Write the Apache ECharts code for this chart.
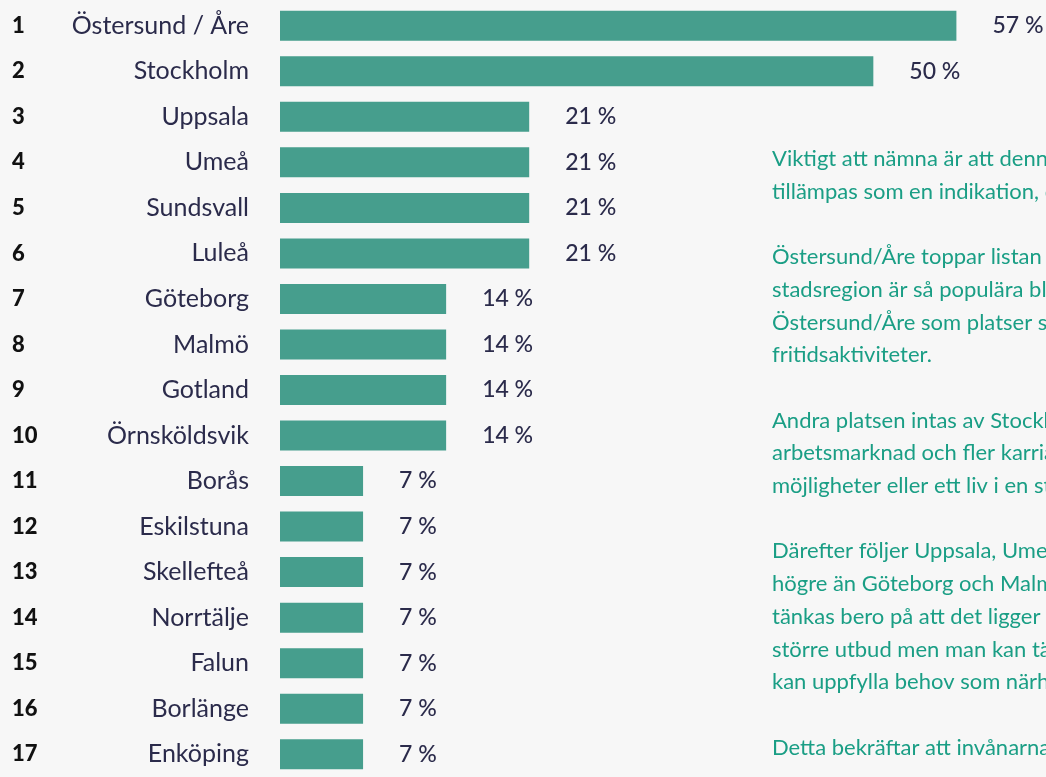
<!DOCTYPE html>
<html>
<head>
<meta charset="utf-8">
<script src="https://cdn.jsdelivr.net/npm/echarts@6/dist/echarts.min.js"></script>
<style>
    html, body { margin: 0; padding: 0; background: #f7f7f7; }
    #chart { width: 1046px; height: 777px; }
</style>
</head>
<body>
<div id="chart"></div>
<script>
var ranks = ['1', '2', '3', '4', '5', '6', '7', '8', '9', '10', '11', '12', '13', '14', '15', '16', '17'];
var places = ['Östersund / Åre', 'Stockholm', 'Uppsala', 'Umeå', 'Sundsvall', 'Luleå', 'Göteborg', 'Malmö',
    'Gotland', 'Örnsköldsvik', 'Borås', 'Eskilstuna', 'Skellefteå', 'Norrtälje', 'Falun', 'Borlänge', 'Enköping'];
var shares = [57, 50, 21, 21, 21, 21, 14, 14, 14, 14, 7, 7, 7, 7, 7, 7, 7];

// side text (runs past the right edge like the original), '' = blank line
var notes = [
    'Viktigt att nämna är att denna',
    'tillämpas som en indikation, då',
    '',
    'Östersund/Åre toppar listan',
    'stadsregion är så populära bland',
    'Östersund/Åre som platser som',
    'fritidsaktiviteter.',
    '',
    'Andra platsen intas av Stockholm',
    'arbetsmarknad och fler karriär',
    'möjligheter eller ett liv i en stor',
    '',
    'Därefter följer Uppsala, Umeå',
    'högre än Göteborg och Malmö',
    'tänkas bero på att det ligger',
    'större utbud men man kan tänka',
    'kan uppfylla behov som närhet',
    '',
    'Detta bekräftar att invånarna'
];

var font = 'Lato, "Open Sans", sans-serif';
var textColor = '#2b2b4b';

var graphics = [];
notes.forEach(function(line, i) {
    if (!line) return;
    graphics.push({
        type: 'text',
        left: 772,
        top: 161 + i * 32.7 - 13,
        style: {
            text: line,
            fill: '#1a9e85',
            font: '22px ' + font
        }
    });
});

var chart = echarts.init(document.getElementById('chart'));
chart.setOption({
    backgroundColor: '#f7f7f7',
    animation: false,
    textStyle: { fontFamily: font },
    grid: { left: 280, top: 3, width: 712, height: 779, containLabel: false },
    xAxis: { type: 'value', min: 0, max: 60, show: false },
    yAxis: [{
        type: 'category',
        inverse: true,
        data: places,
        axisLine: { show: false },
        axisTick: { show: false },
        axisLabel: { margin: 31, fontSize: 25, color: textColor }
    }, {
        type: 'category',
        inverse: true,
        position: 'left',
        data: ranks,
        axisLine: { show: false },
        axisTick: { show: false },
        axisLabel: { margin: 268, align: 'left', fontSize: 22, fontWeight: 900, color: '#111111' }
    }],
    series: [{
        type: 'bar',
        data: shares,
        barWidth: 30,
        itemStyle: { color: '#469e8d' },
        label: {
            show: true,
            position: 'right',
            distance: 36,
            formatter: '{c} %',
            fontSize: 23,
            fontWeight: 500,
            color: textColor
        }
    }],
    graphic: graphics
});

window.addEventListener('resize', function() {
    chart.resize();
});
</script>
</body>
</html>
